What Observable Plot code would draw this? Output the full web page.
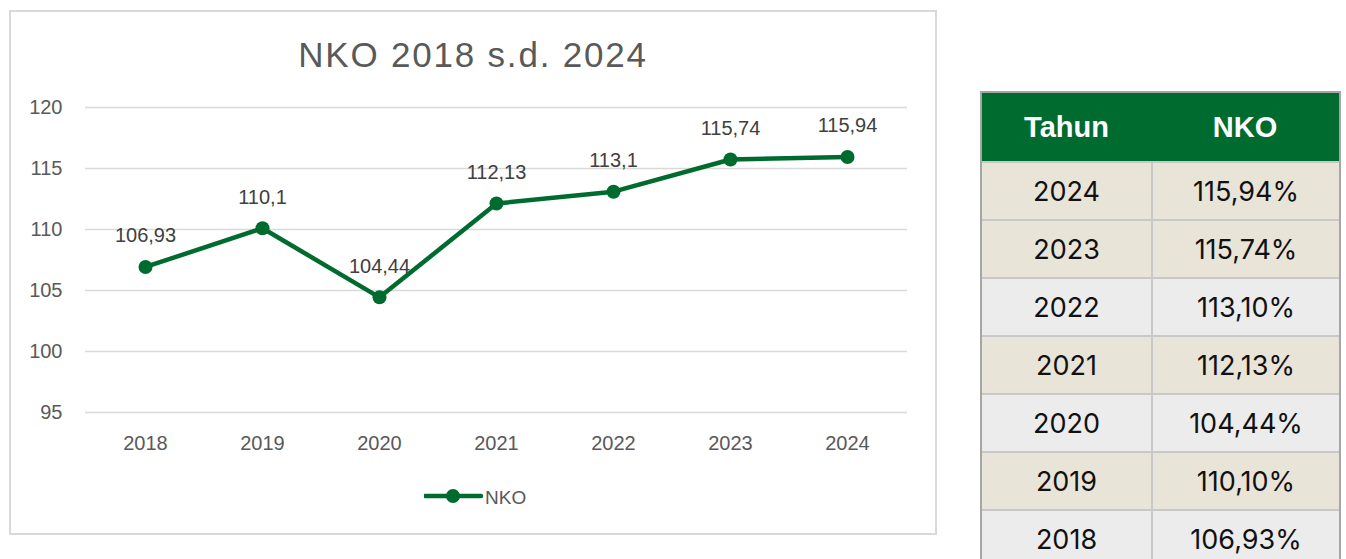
<!DOCTYPE html>
<html>
<head>
<meta charset="utf-8">
<script src="https://cdn.jsdelivr.net/npm/d3@7"></script>
<script src="https://cdn.jsdelivr.net/npm/@observablehq/plot@0.6"></script>
<style>
  html, body { margin: 0; padding: 0; background: #ffffff; }
  body { position: relative; width: 1346px; height: 559px; overflow: hidden; font-family: "Liberation Sans", Arial, sans-serif; }
  #frame { position: absolute; left: 9px; top: 10px; width: 928px; height: 525px; box-sizing: border-box; border: 2px solid #d9d9d9; }
  #title { position: absolute; left: 9px; top: 37px; width: 928px; text-align: center; font-size: 35px; line-height: 35px; letter-spacing: 1.8px; color: #595959; }
  #chart { position: absolute; left: 9px; top: 80px; }
  #legend { position: absolute; left: 424px; top: 486px; }
  #legendText { position: absolute; left: 485px; top: 488px; font-size: 19px; line-height: 19px; color: #595959; }
  #tbl { position: absolute; left: 980px; top: 91px; width: 361px; box-sizing: border-box; border: 2px solid #a6a6a6; border-bottom: none; }
  .row { display: flex; height: 58px; box-sizing: border-box; border-top: 2px solid #c8c8c8; }
  .row.head { height: 68px; border-top: none; background: #006b2f; color: #ffffff; font-family: "Liberation Sans", Arial, sans-serif; font-weight: bold; font-size: 29px; }
  .cell { display: flex; align-items: center; justify-content: center; box-sizing: border-box; }
  .c1 { width: 169px; }
  .c2 { flex: 1; border-left: 2px solid #c8c8c8; }
  .head .c2 { border-left: none; }
  .body { font-family: Inter, "Liberation Sans", sans-serif; font-size: 27px; color: #111111; }
</style>
</head>
<body>
<div id="frame"></div>
<div id="title">NKO 2018 s.d. 2024</div>
<div id="chart"></div>
<div id="legend"></div>
<div id="legendText">NKO</div>
<div id="tbl"></div>
<script>
const years = ["2018", "2019", "2020", "2021", "2022", "2023", "2024"];
const nko = [106.93, 110.1, 104.44, 112.13, 113.1, 115.74, 115.94];
const yTicks = [95, 100, 105, 110, 115, 120];
const seriesName = "NKO";
const tableHeader = ["Tahun", "NKO"];

const green = "#006b2f";
const comma = v => String(v).replace(".", ",");
const data = years.map((y, i) => ({year: y, value: nko[i], label: comma(nko[i])}));

const chart = Plot.plot({
  width: 928,
  height: 382,
  marginLeft: 76,
  marginRight: 30,
  marginTop: 27,
  marginBottom: 50,
  x: {type: "point", domain: years, padding: 0.5, label: null},
  y: {domain: [95, 120], label: null},
  style: {fontFamily: "Liberation Sans, Arial, sans-serif", fontSize: "20px", color: "#595959", background: "transparent", overflow: "visible"},
  marks: [
    Plot.gridY(yTicks, {stroke: "#d9d9d9", strokeOpacity: 1, strokeWidth: 1.5}),
    Plot.axisY(yTicks, {tickSize: 0, tickPadding: 23, fontSize: 20, label: null}),
    Plot.axisX({tickSize: 0, tickPadding: 23, fontSize: 20, label: null}),
    Plot.line(data, {x: "year", y: "value", stroke: green, strokeWidth: 4.5}),
    Plot.dot(data, {x: "year", y: "value", r: 7, fill: green, stroke: "none"}),
    Plot.text(data, {x: "year", y: "value", text: "label", dy: -31, fontSize: 20, fill: "#404040"})
  ]
});
document.getElementById("chart").appendChild(chart);

// legend symbol
const leg = d3.select("#legend").append("svg").attr("width", 60).attr("height", 20);
leg.append("line").attr("x1", 1).attr("x2", 57).attr("y1", 10).attr("y2", 10)
  .attr("stroke", green).attr("stroke-width", 4.5).attr("stroke-linecap", "round");
leg.append("circle").attr("cx", 29).attr("cy", 10).attr("r", 7).attr("fill", green);
document.getElementById("legendText").textContent = seriesName;

// table (years descending)
const rowFills = ["#e9e4d8", "#e9e4d8", "#ececec", "#e9e4d8", "#ececec", "#e9e4d8", "#ececec"];
const tbl = d3.select("#tbl");
const head = tbl.append("div").attr("class", "row head");
head.append("div").attr("class", "cell c1").text(tableHeader[0]);
head.append("div").attr("class", "cell c2").text(tableHeader[1]);
const order = years.map((y, i) => i).reverse();
order.forEach((idx, k) => {
  const r = tbl.append("div").attr("class", "row body").style("background", rowFills[k]);
  r.append("div").attr("class", "cell c1").text(years[idx]);
  r.append("div").attr("class", "cell c2").text(nko[idx].toFixed(2).replace(".", ",") + "%");
});
</script>
</body>
</html>
